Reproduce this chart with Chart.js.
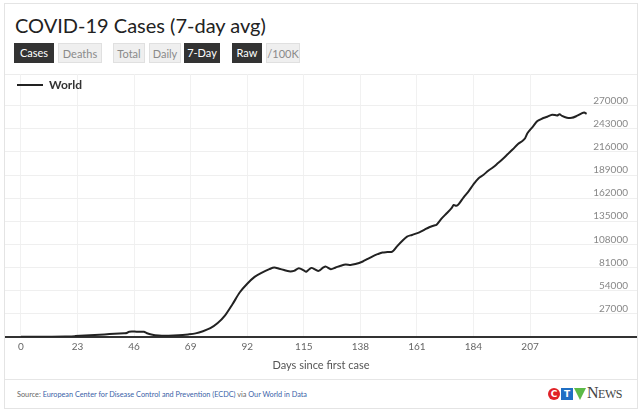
<!DOCTYPE html>
<html>
<head>
<meta charset="utf-8">
<script src="https://cdn.jsdelivr.net/npm/chart.js@4.4.1/dist/chart.umd.min.js"></script>
<style>
  html, body { margin: 0; padding: 0; background: #fff; }
  body { width: 640px; height: 411px; position: relative; overflow: hidden; font-family: "Lato", "Open Sans", sans-serif; }
  #card { position: absolute; left: 4px; top: 3px; width: 632px; height: 404px; border: 1px solid #e4e4e4; }
  #title { position: absolute; left: 10px; top: 9px; font-size: 20px; color: #222; white-space: nowrap; }
  .btn { position: absolute; top: 39px; height: 20px; line-height: 20px; font-size: 11px; text-align: center; box-sizing: border-box; }
  .on { background: #333; color: #fff; }
  .off { background: #efefef; color: #8a8a8a; border: 1px solid #e0e0e0; }
  #sep1 { position: absolute; left: 0; top: 70px; width: 632px; height: 1px; background: #ececec; }
  #sep2 { position: absolute; left: 0; top: 375px; width: 632px; height: 1px; background: #e6e6e6; }
  #wrap { position: absolute; left: 5px; top: 74px; width: 632px; height: 305px; }
  #legend { position: absolute; left: 17px; top: 77px; height: 16px; font-size: 12px; font-weight: bold; color: #333; white-space: nowrap; }
  #legend i { display: inline-block; width: 26px; height: 2px; background: #222; vertical-align: middle; margin-right: 6px; position: relative; top: -1px; }
  #source { position: absolute; left: 12px; top: 386px; font-size: 7.3px; color: #666; white-space: nowrap; }
  #source span { color: #3a5fa8; }
  #logo { position: absolute; left: 543px; top: 383px; height: 14px; }
  #logo .c { position: absolute; left: 0; top: 1px; width: 12px; height: 12px; border-radius: 6px; background: #e02227; color: #fff; font: bold 9px "DejaVu Sans", sans-serif; text-align: center; line-height: 12px; }
  #logo .t { position: absolute; left: 13px; top: 1px; width: 12px; height: 12px; background: #1f6fc4; color: #fff; font: bold 9px "DejaVu Sans", sans-serif; text-align: center; line-height: 12px; }
  #logo .v { position: absolute; left: 26px; top: 1px; width: 12px; height: 12px; background: #5cba47; clip-path: polygon(0 0, 100% 0, 50% 100%); }
  #logo .n { position: absolute; left: 39px; top: -3px; font: 16px "Liberation Serif", "DejaVu Serif", serif; color: #444; white-space: nowrap; letter-spacing: -0.5px; }
  #logo .n small { font-size: 12px; }
</style>
</head>
<body>
<div id="card">
  <div id="title">COVID-19 Cases (7-day avg)</div>
  <div class="btn on" style="left:9px;width:40px">Cases</div>
  <div class="btn off" style="left:53px;width:44px">Deaths</div>
  <div class="btn off" style="left:108px;width:32px">Total</div>
  <div class="btn off" style="left:144px;width:32px">Daily</div>
  <div class="btn on" style="left:179px;width:36px">7-Day</div>
  <div class="btn on" style="left:227px;width:30px">Raw</div>
  <div class="btn off" style="left:261px;width:34px">/100K</div>
  <div id="sep1"></div>
  <div id="sep2"></div>
  <div id="source">Source: <span>European Center for Disease Control and Prevention (ECDC)</span> via <span>Our World in Data</span></div>
  <div id="logo"><div class="c">C</div><div class="t">T</div><div class="v"></div><div class="n">N<small>EWS</small></div></div>
</div>
<div id="wrap"><canvas id="chart"></canvas></div>
<div id="legend"><i></i>World</div>
<script>
// days since first case
var days = [0, 10, 18, 22, 26, 30, 34, 38, 42, 43, 44, 47, 50, 51, 53, 56, 60, 64, 68, 71,
  74, 77, 80, 83, 86, 89, 92, 95, 98, 101, 103, 105, 107, 109, 111, 113, 115, 116, 118, 120,
  121, 123, 124, 126, 128, 130, 132, 134, 136, 139, 141, 143, 145, 147, 149, 151, 153, 155, 157, 159,
  162, 164, 166, 168, 169, 171, 173, 175, 176, 177, 178, 180, 182, 184, 186, 188, 190, 192, 194, 196,
  198, 200, 202, 204, 205, 206, 208, 210, 212, 214, 216, 218, 219, 220, 222, 224, 226, 228, 229, 230];

// world new cases, 7-day average
var worldCases = [0, 50, 300, 800, 1500, 2200, 2800, 3500, 4200, 4500, 6000, 6000, 5800, 4500, 2700, 1500, 1300, 1700, 2800, 4000,
  6500, 10000, 16000, 25000, 38000, 52000, 62000, 70000, 75000, 79000, 81000, 79500, 78000, 76500, 77000, 80000, 77500, 76000, 80500, 78000,
  77000, 81000, 82000, 79000, 81000, 83000, 84500, 84000, 85000, 88000, 91000, 94000, 96500, 98500, 99000, 99500, 106000, 112000, 117000, 119000,
  122000, 125000, 128000, 130000, 131000, 138000, 144000, 150000, 154000, 153000, 155000, 163000, 170000, 178000, 185000, 189000, 194000, 198000, 203000, 208000,
  213500, 219000, 225000, 229000, 232000, 238000, 245000, 252000, 255000, 257000, 259500, 258500, 260000, 258000, 256000, 255800, 258000, 261000, 262000, 260500];

var xTicks = [0, 23, 46, 69, 92, 115, 138, 161, 184, 207];
var yTicks = [27000, 54000, 81000, 108000, 135000, 162000, 189000, 216000, 243000, 270000];

var points = days.map(function(d, i) { return { x: d, y: worldCases[i] }; });

function noPadding(axis) {
  axis.paddingTop = 0;
  axis.paddingBottom = 0;
  axis.paddingLeft = 0;
  axis.paddingRight = 0;
}

var ctx = document.getElementById("chart").getContext("2d");
var chart = new Chart(ctx, {
  type: 'line',
  data: {
    datasets: [{
      label: 'World',
      data: points,
      borderColor: '#222',
      backgroundColor: '#222',
      borderWidth: 2,
      pointRadius: 0,
      tension: 0.3,
      fill: false
    }]
  },
  options: {
    responsive: true,
    maintainAspectRatio: false,
    animation: false,
    layout: { padding: 0 },
    plugins: {
      legend: { display: false },
      tooltip: { enabled: false }
    },
    scales: {
      x: {
        type: 'linear',
        min: -6.5,
        max: 250.5,
        afterBuildTicks: function(axis) { axis.ticks = xTicks.map(function(v) { return { value: v }; }); },
        afterFit: noPadding,
        grid: { color: '#f1f1f1', drawTicks: false },
        border: { color: '#333', width: 2 },
        ticks: { color: '#666', padding: 4, font: { family: 'Lato', size: 10 } },
        title: {
          display: true,
          text: 'Days since first case',
          color: '#555',
          padding: { top: 2, bottom: 7 },
          font: { family: 'Lato', size: 11 }
        }
      },
      y: {
        position: 'right',
        min: 0,
        max: 307000,
        afterBuildTicks: function(axis) { axis.ticks = yTicks.map(function(v) { return { value: v }; }); },
        afterFit: function(axis) { noPadding(axis); axis.width = 0; },
        grid: { color: '#efefef', drawTicks: false },
        border: { display: false },
        ticks: {
          mirror: true,
          padding: -9,
          labelOffset: -5,
          color: '#888',
          font: { family: 'Lato', size: 10 },
          callback: function(v) { return String(v); }
        }
      }
    }
  }
});
</script>
</body>
</html>
